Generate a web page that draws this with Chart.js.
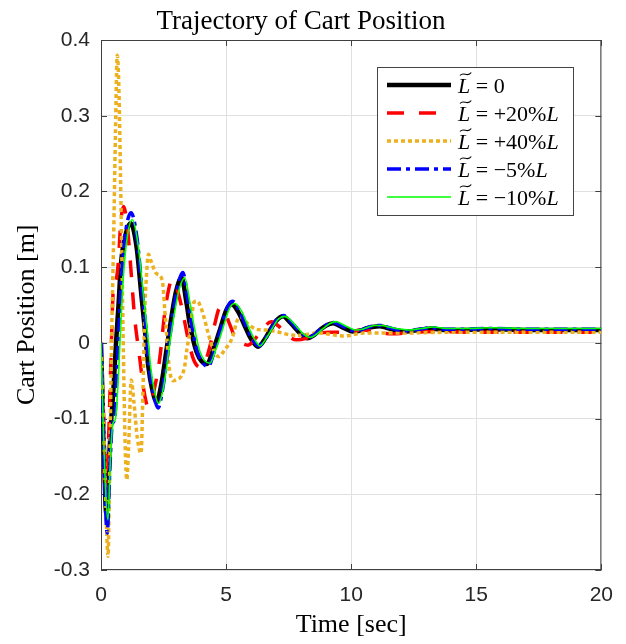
<!DOCTYPE html>
<html>
<head>
<meta charset="utf-8">
<script src="https://cdn.jsdelivr.net/npm/chart.js@4.4.0/dist/chart.umd.min.js"></script>
<style>
  html, body { margin: 0; padding: 0; background: #fff; }
</style>
</head>
<body>
<canvas id="chart" width="626" height="644"></canvas>
<script>
// ── Datos (tiempo [s] / posición [m]) ──
const tickX = [0, 5, 10, 15, 20];
const tickY = [-0.3, -0.2, -0.1, 0, 0.1, 0.2, 0.3, 0.4];

const legendText = ['0', '+20%L', '+40%L', '\u22125%L', '\u221210%L'];

// L~ = 0
const blackT = [0, 0.1, 0.21, 0.3, 0.4, 0.5, 0.6, 0.7, 0.8, 1.0, 1.18, 1.42, 1.62, 1.76, 1.89, 2.05, 2.22, 2.42, 2.62, 2.82, 3.0, 3.22, 3.42, 3.55, 3.82, 4.22, 4.5, 4.75, 5.02, 5.22, 5.5, 5.75, 6.0, 6.28, 6.55, 6.78, 7.0, 7.28, 7.5, 7.75, 8.0, 8.25, 8.5, 8.75, 9.0, 9.27, 9.5, 9.75, 10.07, 10.35, 10.6, 10.85, 11.14, 11.4, 11.7, 12.2, 12.7, 13.2, 13.7, 14.5, 15.5, 17, 18.5, 20];
const blackY = [0, -0.12, -0.225, -0.17, -0.106, -0.06, 0.0, 0.05, 0.105, 0.145, 0.158, 0.127, 0.061, 0.015, -0.031, -0.062, -0.078, -0.053, -0.009, 0.035, 0.068, 0.086, 0.052, 0.025, -0.012, -0.028, -0.008, 0.017, 0.044, 0.051, 0.04, 0.022, 0.005, -0.005, 0.005, 0.018, 0.029, 0.035, 0.029, 0.02, 0.011, 0.006, 0.01, 0.017, 0.023, 0.026, 0.023, 0.019, 0.015, 0.016, 0.019, 0.021, 0.022, 0.02, 0.017, 0.015, 0.017, 0.019, 0.017, 0.017, 0.018, 0.017, 0.017, 0.017];

// L~ = +20%L
const redT = [0, 0.1, 0.2, 0.3, 0.4, 0.5, 0.6, 0.7, 0.78, 0.9, 1.05, 1.2, 1.34, 1.54, 1.7, 1.88, 2.05, 2.2, 2.35, 2.55, 2.7, 2.82, 3.0, 3.22, 3.49, 3.7, 3.95, 4.15, 4.35, 4.55, 4.75, 4.95, 5.15, 5.35, 5.6, 5.88, 6.15, 6.45, 6.81, 7.1, 7.45, 7.81, 8.2, 8.6, 9.14, 9.7, 10.47, 11.0, 11.67, 12.5, 13.5, 15, 17, 20];
const redY = [0, -0.1, -0.19, -0.13, -0.02, 0.075, 0.083, 0.11, 0.155, 0.18, 0.155, 0.095, 0.035, -0.018, -0.06, -0.084, -0.072, -0.05, -0.02, 0.04, 0.07, 0.083, 0.075, 0.048, 0.004, -0.022, -0.032, -0.026, -0.005, 0.025, 0.046, 0.04, 0.024, 0.008, 0.0, -0.003, 0.005, 0.018, 0.028, 0.022, 0.01, 0.004, 0.006, 0.012, 0.014, 0.014, 0.017, 0.014, 0.012, 0.014, 0.015, 0.014, 0.014, 0.014];

// L~ = +40%L
const orangeT = [0, 0.1, 0.2, 0.28, 0.35, 0.42, 0.5, 0.58, 0.65, 0.72, 0.78, 0.85, 0.92, 0.97, 1.03, 1.1, 1.21, 1.32, 1.45, 1.6, 1.68, 1.75, 1.82, 1.9, 2.0, 2.2, 2.4, 2.48, 2.55, 2.62, 2.68, 2.75, 2.88, 3.05, 3.23, 3.35, 3.43, 3.55, 3.63, 3.72, 3.85, 4.0, 4.15, 4.28, 4.5, 4.7, 4.95, 5.25, 5.45, 5.6, 5.85, 6.2, 6.6, 7.0, 7.5, 7.9, 8.7, 9.7, 10.5, 12, 14, 17, 20];
const orangeY = [0, -0.1, -0.22, -0.282, -0.16, 0.0, 0.13, 0.28, 0.38, 0.33, 0.22, 0.08, -0.06, -0.14, -0.181, -0.14, -0.049, -0.08, -0.125, -0.146, -0.06, 0.04, 0.09, 0.117, 0.108, 0.092, 0.087, 0.075, 0.043, 0.014, -0.016, -0.038, -0.05, -0.048, -0.043, -0.03, -0.009, 0.013, 0.035, 0.054, 0.055, 0.046, 0.03, 0.013, -0.01, -0.018, -0.009, 0.007, 0.03, 0.034, 0.026, 0.018, 0.017, 0.015, 0.011, 0.01, 0.013, 0.009, 0.013, 0.013, 0.014, 0.014, 0.014];

// L~ = -5%L
const blueT = [0, 0.1, 0.25, 0.35, 0.45, 0.55, 0.65, 0.75, 0.85, 1.0, 1.2, 1.44, 1.65, 1.8, 1.93, 2.1, 2.28, 2.48, 2.68, 2.88, 3.06, 3.27, 3.47, 3.6, 3.87, 4.28, 4.55, 4.8, 5.05, 5.25, 5.53, 5.78, 6.03, 6.31, 6.58, 6.81, 7.03, 7.31, 7.53, 7.78, 8.03, 8.28, 8.53, 8.78, 9.03, 9.3, 9.53, 9.78, 10.1, 10.38, 10.63, 10.88, 11.17, 11.43, 11.73, 12.23, 12.73, 13.23, 13.73, 14.5, 15.5, 17, 18.5, 20];
const blueY = [0, -0.13, -0.251, -0.17, -0.108, -0.1, -0.03, 0.04, 0.1, 0.15, 0.172, 0.138, 0.067, 0.018, -0.032, -0.068, -0.086, -0.058, -0.01, 0.038, 0.074, 0.093, 0.057, 0.028, -0.013, -0.031, -0.009, 0.019, 0.047, 0.055, 0.043, 0.024, 0.006, -0.004, 0.006, 0.019, 0.031, 0.036, 0.03, 0.021, 0.012, 0.007, 0.011, 0.018, 0.024, 0.027, 0.024, 0.02, 0.016, 0.017, 0.02, 0.022, 0.023, 0.021, 0.018, 0.016, 0.018, 0.02, 0.018, 0.018, 0.019, 0.018, 0.018, 0.018];

// L~ = -10%L
const greenT = [0, 0.1, 0.28, 0.38, 0.48, 0.58, 0.7, 0.8, 0.9, 1.05, 1.25, 1.48, 1.7, 1.85, 1.98, 2.14, 2.3, 2.52, 2.72, 2.92, 3.12, 3.35, 3.55, 3.7, 3.95, 4.35, 4.62, 4.88, 5.14, 5.35, 5.62, 5.86, 6.1, 6.35, 6.62, 6.86, 7.08, 7.35, 7.58, 7.83, 8.08, 8.35, 8.6, 8.85, 9.12, 9.4, 9.62, 9.87, 10.17, 10.45, 10.7, 10.95, 11.23, 11.5, 11.8, 12.3, 12.8, 13.3, 13.8, 14.6, 15.6, 17, 18.5, 20];
const greenY = [0, -0.12, -0.234, -0.15, -0.106, -0.1, -0.04, 0.03, 0.09, 0.14, 0.163, 0.13, 0.062, 0.016, -0.03, -0.064, -0.08, -0.055, -0.008, 0.036, 0.07, 0.086, 0.054, 0.026, -0.011, -0.027, -0.006, 0.02, 0.046, 0.052, 0.042, 0.024, 0.007, -0.004, 0.007, 0.02, 0.031, 0.035, 0.03, 0.021, 0.012, 0.007, 0.011, 0.018, 0.025, 0.028, 0.025, 0.021, 0.017, 0.018, 0.021, 0.023, 0.023, 0.021, 0.019, 0.017, 0.019, 0.021, 0.019, 0.019, 0.02, 0.019, 0.019, 0.019];

// ── Estilos (estilo MATLAB) ──
const estilos = [
    { t: blackT,  y: blackY,  color: '#000000', width: 4.5, dash: [] },
    { t: redT,    y: redY,    color: '#ff0000', width: 3.5, dash: [17, 15] },
    { t: orangeT, y: orangeY, color: '#edb120', width: 3.5, dash: [4, 3] },
    { t: blueT,   y: blueY,   color: '#0000ff', width: 3.5, dash: [14, 5, 4, 5] },
    { t: greenT,  y: greenY,  color: '#00ff00', width: 1.6, dash: [] }
];

const pts = (t, y) => t.map((x, i) => ({ x: x, y: y[i] }));
const fmtY = v => { const r = Math.round(v * 10) / 10; return r === 0 ? '0' : String(r); };

// ── Marco con ticks hacia adentro ──
const marco = {
    id: 'marco',
    beforeDatasetsDraw(chart) {
        const { ctx, chartArea: a, scales } = chart;
        ctx.save();
        ctx.strokeStyle = '#404040';
        ctx.lineWidth = 1;
        ctx.strokeRect(a.left + 0.5, a.top + 0.5, a.right - a.left - 1, a.bottom - a.top - 1);
        ctx.beginPath();
        tickX.forEach(v => {
            const px = Math.round(scales.x.getPixelForValue(v)) + 0.5;
            ctx.moveTo(px, a.bottom); ctx.lineTo(px, a.bottom - 6);
            ctx.moveTo(px, a.top); ctx.lineTo(px, a.top + 6);
        });
        tickY.forEach(v => {
            const py = Math.round(scales.y.getPixelForValue(v)) + 0.5;
            ctx.moveTo(a.left, py); ctx.lineTo(a.left + 6, py);
            ctx.moveTo(a.right, py); ctx.lineTo(a.right - 6, py);
        });
        ctx.stroke();
        ctx.restore();
    }
};

// ── Leyenda con L tilde ──
const leyenda = {
    id: 'leyenda',
    afterDraw(chart) {
        const ctx = chart.ctx;
        const bx = 377, by = 67, bw = 196, bh = 148;
        ctx.save();
        ctx.fillStyle = '#ffffff';
        ctx.fillRect(bx, by, bw, bh);
        ctx.strokeStyle = '#444444';
        ctx.lineWidth = 1;
        ctx.strokeRect(bx + 0.5, by + 0.5, bw, bh);
        estilos.forEach((s, i) => {
            const yRow = 85 + i * 28;
            ctx.beginPath();
            ctx.strokeStyle = s.color;
            ctx.lineWidth = s.width;
            ctx.setLineDash(s.dash);
            ctx.moveTo(387, yRow); ctx.lineTo(451, yRow);
            ctx.stroke();
            ctx.setLineDash([]);

            // texto
            const base = yRow + 8;
            let x = 458;
            ctx.fillStyle = '#000';
            ctx.textBaseline = 'alphabetic';
            ctx.font = 'italic 22px "Liberation Serif"';
            ctx.fillText('L', x, base);
            const wL = ctx.measureText('L').width;
            // tilde ancha sobre la L
            ctx.beginPath();
            ctx.strokeStyle = '#000';
            ctx.lineWidth = 1.1;
            const tx = x + 2, tw = wL - 1, ty = base - 19;
            ctx.moveTo(tx, ty + 1.5);
            ctx.bezierCurveTo(tx + tw * 0.3, ty - 3, tx + tw * 0.7, ty + 4, tx + tw, ty - 1.5);
            ctx.stroke();
            x += wL;
            const txt = legendText[i];
            const conL = txt.endsWith('L');
            const cuerpo = ' = ' + (conL ? txt.slice(0, -1) : txt);
            ctx.font = '22px "Liberation Serif"';
            ctx.fillText(cuerpo, x, base);
            x += ctx.measureText(cuerpo).width;
            if (conL) {
                ctx.font = 'italic 22px "Liberation Serif"';
                ctx.fillText('L', x, base);
            }
        });
        ctx.restore();
    }
};

const datasets = estilos.map((s, i) => ({
    data: pts(s.t, s.y),
    borderColor: s.color,
    borderWidth: s.width,
    borderDash: s.dash,
    borderJoinStyle: 'round',
    pointRadius: 0,
    fill: false,
    cubicInterpolationMode: 'monotone',
    order: estilos.length - i
}));

new Chart(document.getElementById('chart'), {
    type: 'line',
    data: { datasets: datasets },
    options: {
        responsive: false,
        animation: false,
        layout: { padding: { left: 0, right: 24, top: 0, bottom: 0 } },
        plugins: {
            legend: { display: false },
            tooltip: { enabled: false },
            title: {
                display: true,
                text: 'Trajectory of Cart Position',
                color: '#000',
                font: { family: 'Liberation Serif', size: 27, weight: 'normal' },
                padding: { top: 6, bottom: 1.6 }
            }
        },
        scales: {
            x: {
                type: 'linear',
                min: 0, max: 20,
                afterFit: s => { s.height = 74; },
                afterBuildTicks: s => { s.ticks = tickX.map(v => ({ value: v })); },
                ticks: { color: '#262626', padding: 13, font: { family: 'Liberation Sans', size: 21 } },
                grid: { color: '#e0e0e0', drawTicks: false },
                border: { display: false },
                title: {
                    display: true, text: 'Time [sec]', color: '#000',
                    font: { family: 'Liberation Serif', size: 26 },
                    padding: { top: 0, bottom: 3 }
                }
            },
            y: {
                type: 'linear',
                min: -0.3, max: 0.4,
                afterFit: s => { s.width = 101; },
                afterBuildTicks: s => { s.ticks = tickY.map(v => ({ value: v })); },
                ticks: { color: '#262626', padding: 11, callback: fmtY, font: { family: 'Liberation Sans', size: 21 } },
                grid: { color: '#e0e0e0', drawTicks: false },
                border: { display: false },
                title: {
                    display: true, text: 'Cart Position [m]   ', color: '#000',
                    font: { family: 'Liberation Serif', size: 26 },
                    padding: { top: 12, bottom: 0 }
                }
            }
        }
    },
    plugins: [marco, leyenda]
});
</script>
</body>
</html>
